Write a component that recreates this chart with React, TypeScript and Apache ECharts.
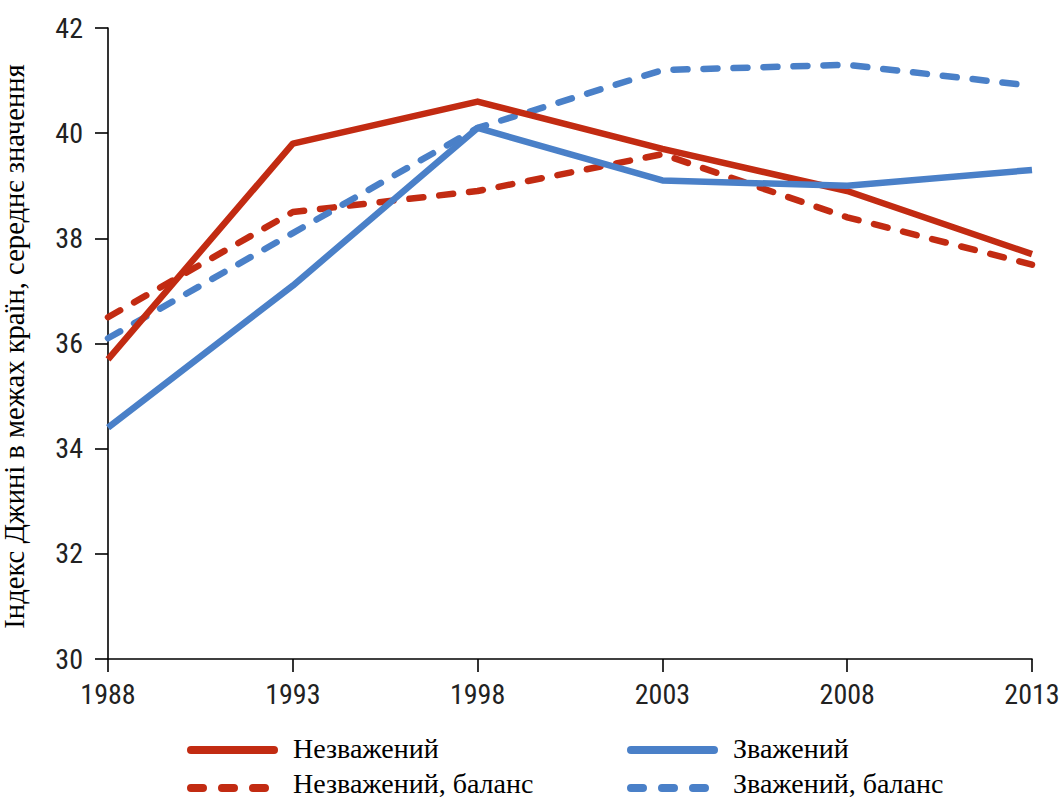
import React, { useEffect, useRef } from "react";
import * as echarts from "echarts";

const years = ["1988", "1993", "1998", "2003", "2008", "2013"];
const unweighted = [35.7, 39.8, 40.6, 39.7, 38.9, 37.7];
const weighted = [34.4, 37.1, 40.1, 39.1, 39.0, 39.3];
const unweightedBalance = [36.5, 38.5, 38.9, 39.6, 38.4, 37.5];
const weightedBalance = [36.1, 38.1, 40.1, 41.2, 41.3, 40.9];
const names = ["Незважений", "Зважений", "Незважений, баланс", "Зважений, баланс"];
const yAxisTitle = "Індекс Джині в межах країн, середнє значення";

const RED = "#C22B12";
const BLUE = "#4A80C8";
const tickFont = "'Liberation Sans Narrow', 'Roboto Condensed', 'Roboto', sans-serif";
const serif = "'Liberation Serif', 'DejaVu Serif', serif";

export default function App() {
  const ref = useRef<HTMLDivElement>(null);
  useEffect(() => {
    document.body.style.margin = "0";
    const chart = echarts.init(ref.current!, undefined, { renderer: "svg" });
    const line = (name: string, data: number[], color: string, dashed: boolean) => ({
      name,
      type: "line",
      data,
      symbol: "none",
      lineStyle: {
        color,
        width: 6.5,
        type: dashed ? [14, 16] : "solid",
        cap: dashed ? "round" : "butt",
        join: "round",
      },
      itemStyle: { color },
    });

    // custom legend drawn with graphic elements
    const legendItems = [
      { name: names[0], color: RED, dashed: false, x: 187, y: 750, ty: 748 },
      { name: names[2], color: RED, dashed: true, x: 187, y: 788, ty: 783 },
      { name: names[1], color: BLUE, dashed: false, x: 627, y: 750, ty: 748 },
      { name: names[3], color: BLUE, dashed: true, x: 627, y: 788, ty: 783 },
    ];
    const graphic: any[] = [];
    legendItems.forEach((it) => {
      graphic.push({
        type: "line",
        shape: { x1: it.x + 4, y1: it.y, x2: it.x + 87, y2: it.y },
        style: {
          stroke: it.color,
          lineWidth: 8,
          lineCap: "round",
          lineDash: it.dashed ? [12, 19] : null,
        },
      });
      graphic.push({
        type: "text",
        x: it.x + 106,
        y: it.ty,
        style: {
          text: it.name,
          fontFamily: serif,
          fontSize: 28,
          fill: "#000",
          verticalAlign: "middle",
          align: "left",
        },
      });
    });

    chart.setOption({
      animation: false,
      grid: { left: 108, right: 30, top: 28, bottom: 142, outerBoundsMode: "none", containLabel: false },
      graphic,
      xAxis: {
        type: "category",
        data: years,
        boundaryGap: false,
        axisLine: { lineStyle: { color: "#000", width: 1.6 } },
        axisTick: { length: 13, lineStyle: { color: "#000", width: 1.6 } },
        axisLabel: { fontFamily: tickFont, fontSize: 28, color: "#222", margin: 21 },
        splitLine: { show: false },
      },
      yAxis: {
        type: "value",
        min: 30,
        max: 42,
        interval: 2,
        name: yAxisTitle,
        nameLocation: "middle",
        nameGap: 79,
        nameTextStyle: { fontFamily: serif, fontSize: 28.6, color: "#000", padding: [0, 6, 0, 0] },
        axisLine: { show: true, lineStyle: { color: "#000", width: 1.6 } },
        axisTick: { show: true, length: 13, lineStyle: { color: "#000", width: 1.6 } },
        axisLabel: { fontFamily: tickFont, fontSize: 28, color: "#222", margin: 25 },
        splitLine: { show: false },
      },
      series: [
        line(names[2], unweightedBalance, RED, true),
        line(names[3], weightedBalance, BLUE, true),
        line(names[0], unweighted, RED, false),
        line(names[1], weighted, BLUE, false),
      ],
    });
    return () => chart.dispose();
  }, []);
  return <div ref={ref} style={{ width: 1062, height: 801 }} />;
}
